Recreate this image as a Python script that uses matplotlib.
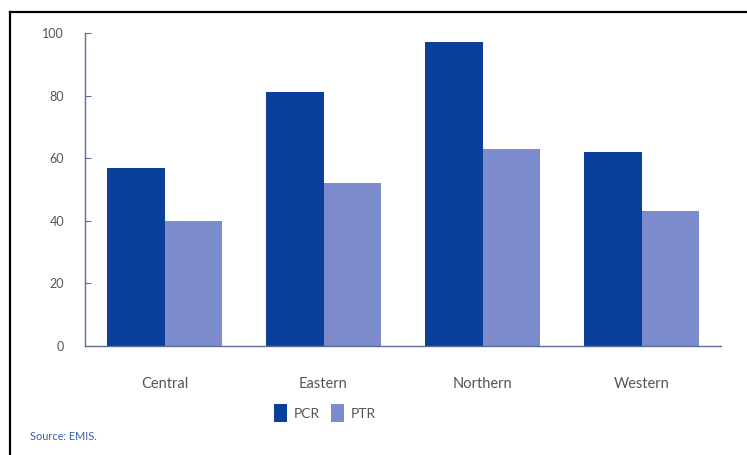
"""Bar chart: PCR and PTR by region (Source: EMIS)."""
import matplotlib.pyplot as plt
import numpy as np
from matplotlib.lines import Line2D

regions = ["Central", "Eastern", "Northern", "Western"]
pcr = [57, 81, 97, 62]
ptr = [40, 52, 63, 43]
yticks = [0, 20, 40, 60, 80, 100]

DARK, LIGHT = "#0b3f9c", "#7b8bcb"
AXIS, GREY = "#5b6e98", "#555555"

plt.rcParams["font.family"] = ["Lato", "DejaVu Sans"]

fig = plt.figure(figsize=(7.47, 4.55), dpi=100)
ax = fig.add_axes([85 / 747, 1 - 346 / 455, 636 / 747, 313 / 455])

x = np.arange(len(regions))
w = 0.36
b1 = ax.bar(x - w / 2, pcr, w, color=DARK, label="PCR")
b2 = ax.bar(x + w / 2, ptr, w, color=LIGHT, label="PTR")

ax.set_xlim(-0.5, len(regions) - 0.5)
ax.set_ylim(0, 100)
ax.set_yticks(yticks)
ax.set_xticks(x, regions)
for s in ["top", "right"]:
    ax.spines[s].set_visible(False)
for s in ["left", "bottom"]:
    ax.spines[s].set_color(AXIS)
    ax.spines[s].set_linewidth(1.0)
ax.tick_params(axis="y", direction="in", length=4, color=AXIS, labelsize=9,
               labelcolor=GREY, pad=15)
ax.tick_params(axis="x", length=0, labelsize=10.5, labelcolor=GREY, pad=22)

fig.legend(handles=[b1, b2], loc="center", bbox_to_anchor=(325 / 747, 1 - 413 / 455),
           ncol=2, frameon=False, fontsize=10, handlelength=0.9, handleheight=1.6,
           columnspacing=0.8, handletextpad=0.5, labelcolor=GREY)

fig.text(30 / 747, 1 - 437 / 455, "Source: EMIS.", fontsize=7.8, color="#3a5fb0",
         va="center")

# cadre partiel (gauche + haut)
fig.add_artist(Line2D([10 / 747, 10 / 747], [0, 1 - 12 / 455], color="black", lw=1.6,
                      transform=fig.transFigure))
fig.add_artist(Line2D([10 / 747, 1], [1 - 12 / 455, 1 - 12 / 455], color="black", lw=1.6,
                      transform=fig.transFigure))

fig.savefig("out.png", dpi=100)
